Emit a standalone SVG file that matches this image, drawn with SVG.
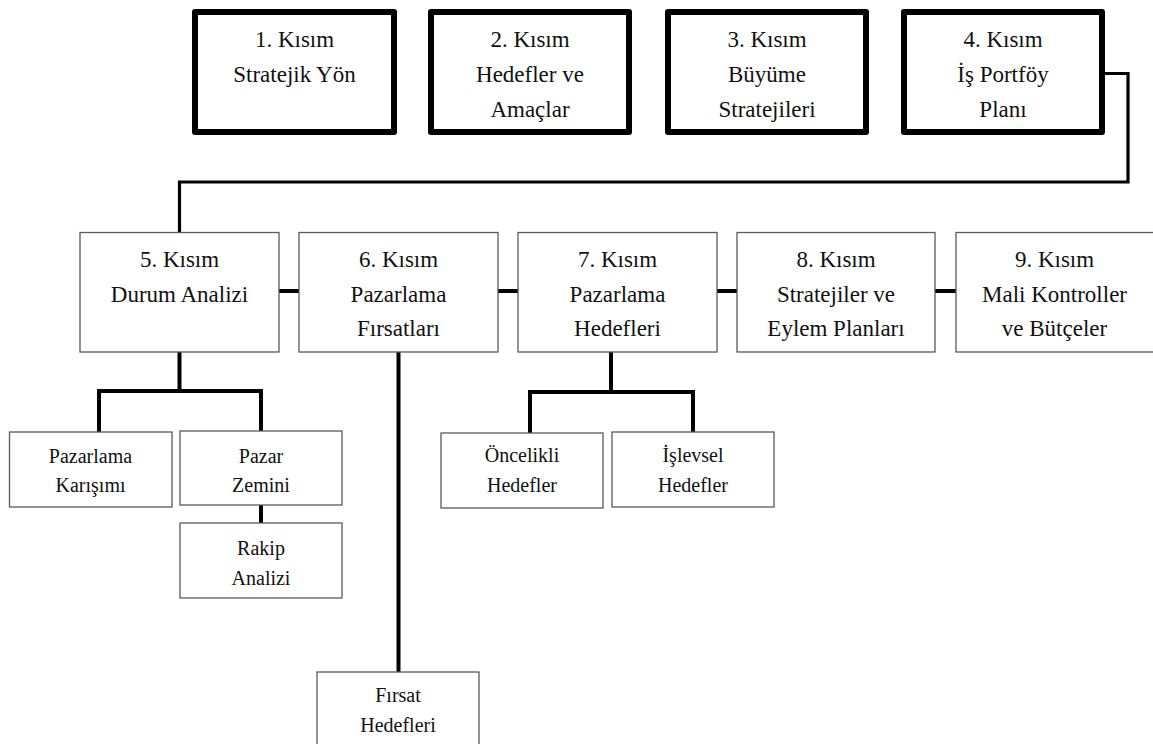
<svg xmlns="http://www.w3.org/2000/svg" width="1153" height="744" viewBox="0 0 1153 744">
<style>
.thick{fill:#fff;stroke:#000;stroke-width:6;stroke-linejoin:round}
.thin{fill:#fff;stroke:#5a5a5a;stroke-width:1.3}
.t{fill:#111;text-anchor:middle}
.tt{font-size:23px}
.tm{font-size:23px}
.ts{font-size:20px}
.c{fill:none;stroke:#000;stroke-width:4;stroke-linejoin:miter}
.c3{fill:none;stroke:#000;stroke-width:3.2}
</style>
<rect width="1153" height="744" fill="#fff"/>
<g id="connectors">
<path class="c3" d="M1102,73.5 H1128 V182 H179.5 V232"/>
<path class="c" d="M279,291 H299 M498,291 H518 M717,291 H737 M935,291 H956"/>
<path class="c" d="M179.5,352 V391 M99,432 V391 H261 V432 M261,505 V523"/>
<path class="c" d="M398.5,352 V672"/>
<path class="c" d="M611,352 V392 M530,433 V392 H693 V432"/>
</g>
<g font-family="'Liberation Serif', Tinos, 'Times New Roman', 'DejaVu Serif', serif">
<g id="n1"><rect class="thick" x="195" y="12" width="199" height="120"/>
<text class="t tt" x="294.5" y="47">1. Kısım</text><text class="t tt" x="294.5" y="82">Stratejik Yön</text></g>
<g id="n2"><rect class="thick" x="431" y="12" width="198" height="120"/>
<text class="t tt" x="530" y="47">2. Kısım</text><text class="t tt" x="530" y="82">Hedefler ve</text><text class="t tt" x="530" y="117">Amaçlar</text></g>
<g id="n3"><rect class="thick" x="668" y="12" width="198" height="120"/>
<text class="t tt" x="767" y="47">3. Kısım</text><text class="t tt" x="767" y="82">Büyüme</text><text class="t tt" x="767" y="117">Stratejileri</text></g>
<g id="n4"><rect class="thick" x="904" y="12" width="198" height="120"/>
<text class="t tt" x="1003" y="47">4. Kısım</text><text class="t tt" x="1003" y="82">İş Portföy</text><text class="t tt" x="1003" y="117">Planı</text></g>
<g id="n5"><rect class="thin" x="80" y="232.5" width="199" height="119.5"/>
<text class="t tm" x="179.5" y="267">5. Kısım</text><text class="t tm" x="179.5" y="302">Durum Analizi</text></g>
<g id="n6"><rect class="thin" x="299" y="232.5" width="199" height="119.5"/>
<text class="t tm" x="398.5" y="267">6. Kısım</text><text class="t tm" x="398.5" y="302">Pazarlama</text><text class="t tm" x="398.5" y="336">Fırsatları</text></g>
<g id="n7"><rect class="thin" x="518" y="232.5" width="199" height="119.5"/>
<text class="t tm" x="617.5" y="267">7. Kısım</text><text class="t tm" x="617.5" y="302">Pazarlama</text><text class="t tm" x="617.5" y="336">Hedefleri</text></g>
<g id="n8"><rect class="thin" x="737" y="232.5" width="198" height="119.5"/>
<text class="t tm" x="836" y="267">8. Kısım</text><text class="t tm" x="836" y="302">Stratejiler ve</text><text class="t tm" x="836" y="336">Eylem Planları</text></g>
<g id="n9"><rect class="thin" x="956" y="232.5" width="200" height="119.5"/>
<text class="t tm" x="1054.5" y="267">9. Kısım</text><text class="t tm" x="1054.5" y="302">Mali Kontroller</text><text class="t tm" x="1054.5" y="336">ve Bütçeler</text></g>
<g id="n10"><rect class="thin" x="9.5" y="432" width="162.5" height="75"/>
<text class="t ts" x="90.5" y="463">Pazarlama</text><text class="t ts" x="90.5" y="492">Karışımı</text></g>
<g id="n11"><rect class="thin" x="180" y="431" width="162" height="74"/>
<text class="t ts" x="261" y="463">Pazar</text><text class="t ts" x="261" y="492">Zemini</text></g>
<g id="n12"><rect class="thin" x="180" y="523" width="162" height="75"/>
<text class="t ts" x="261" y="555">Rakip</text><text class="t ts" x="261" y="585">Analizi</text></g>
<g id="n13"><rect class="thin" x="441" y="433" width="162" height="75"/>
<text class="t ts" x="522" y="462">Öncelikli</text><text class="t ts" x="522" y="492">Hedefler</text></g>
<g id="n14"><rect class="thin" x="612" y="432" width="162" height="75"/>
<text class="t ts" x="693" y="462">İşlevsel</text><text class="t ts" x="693" y="492">Hedefler</text></g>
<g id="n15"><rect class="thin" x="317" y="672" width="162" height="80"/>
<text class="t ts" x="398" y="702">Fırsat</text><text class="t ts" x="398" y="732">Hedefleri</text></g>
</g>
</svg>
